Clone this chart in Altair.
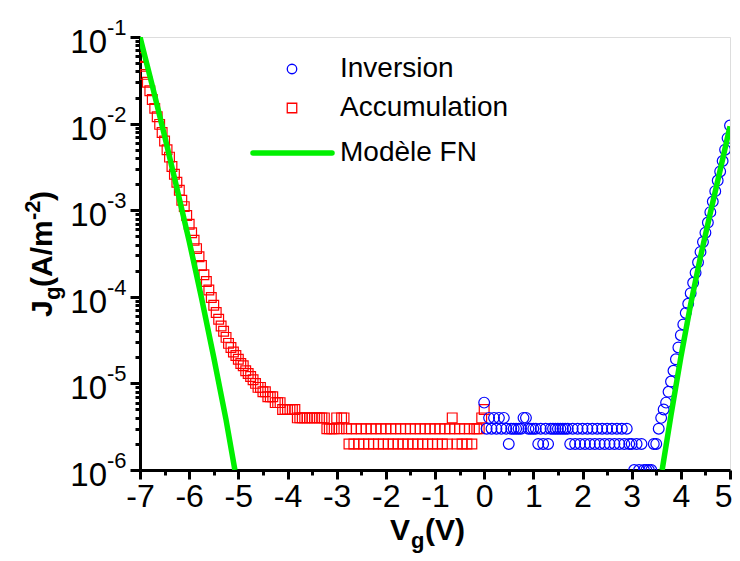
import altair as alt
import pandas as pd

# ---------------- data ----------------
STEP = 0.05  # measurement step (V)

# Accumulation, steep part: V = -7.00 ... -4.65
acc_steep_v0 = -7.00
acc_steep_J = [5.8e-2, 4.6e-2, 3.7e-2, 3.0e-2, 2.4e-2, 1.9e-2, 1.5e-2, 1.2e-2, 9.8e-3, 7.9e-3,
               6.3e-3, 5.0e-3, 4.1e-3, 3.2e-3, 2.6e-3, 2.1e-3, 1.7e-3, 1.3e-3, 1.1e-3, 8.7e-4,
               6.9e-4, 5.5e-4, 4.5e-4, 3.6e-4, 2.9e-4, 2.3e-4, 1.8e-4, 1.5e-4, 1.2e-4, 9.8e-5,
               8.0e-5, 6.6e-5, 5.5e-5, 4.6e-5, 4.0e-5, 3.4e-5, 2.9e-5, 2.6e-5, 2.3e-5, 2.1e-5,
               1.9e-5, 1.7e-5, 1.6e-5, 1.4e-5, 1.3e-5, 1.2e-5, 1.1e-5, 1.0e-5]

# Accumulation, low-level part: V = -4.60 ... 0.00, values in units of 1e-6 A/m2
acc_low_v0 = -4.60
acc_low_mant = [9, 9, 8, 8, 7, 7, 7, 6, 6, 6, 5, 5, 5, 5, 5, 5,
                4, 4, 4, 4, 4, 4, 4, 4, 4, 4, 4, 4,
                3, 3, 3, 3, 4, 3, 4, 4, 3,
                2, 3, 2, 3, 2, 3, 2, 3, 2, 3, 2, 3, 2, 3, 2, 3, 2, 3, 2, 3,
                2, 3, 2, 3, 2, 3, 2, 3, 2, 3, 2, 3, 2, 3, 2, 3, 2, 3, 2, 3,
                2, 3, 4, 3, 2, 3, 2, 3, 2, 3, 2, 3, 3,
                3, 4, 5]

# Inversion, low-level part: V = 0.00 ... 3.55, values in units of 1e-6 A/m2
inv_low_v0 = 0.00
inv_low_mant = [6, 3, 4, 3, 4, 3, 4, 3, 4, 3,
                2, 3, 3, 3, 3, 3, 4, 4, 3, 3,
                3, 3, 2, 3, 2, 3, 2, 3, 3, 3,
                3, 3, 3, 3, 3, 2, 3, 2, 3, 2,
                3, 2, 3, 2, 3, 2, 3, 2, 3, 2,
                3, 2, 3, 2, 3, 2, 3, 2, 3, 2,
                2, 1, 2, 1, 2, 1, 1, 1, 1, 2,
                2, 3]

# Inversion, rising part: V = 3.60 ... 5.00
inv_rise_v0 = 3.60
inv_rise_J = [4e-6, 5e-6, 6e-6, 8e-6, 1.05e-5, 1.4e-5, 1.9e-5, 2.6e-5, 3.6e-5, 4.8e-5,
              6.5e-5, 8.3e-5, 1.1e-4, 1.45e-4, 1.9e-4, 2.5e-4, 3.3e-4, 4.3e-4, 5.5e-4, 7.2e-4,
              9.5e-4, 1.26e-3, 1.66e-3, 2.2e-3, 2.8e-3, 3.7e-3, 5.0e-3, 6.8e-3, 9.5e-3]

# Fowler-Nordheim model (two branches)
fn_left_V = [-7.00, -6.75, -6.50, -6.25, -6.00, -5.75, -5.50, -5.25, -5.07]
fn_left_J = [1.0e-1, 2.75e-2, 7.2e-3, 1.8e-3, 4.4e-4, 9.8e-5, 2.0e-5, 3.8e-6, 1.0e-6]
fn_right_V = [3.62, 3.80, 4.00, 4.20, 4.40, 4.60, 4.80, 5.00]
fn_right_J = [1.0e-6, 4.3e-6, 2.0e-5, 8.2e-5, 2.9e-4, 9.3e-4, 2.9e-3, 9.3e-3]

# axis ticks
x_ticks = [-7 + 0.5 * i for i in range(25)]
y_major = [1e-6, 1e-5, 1e-4, 1e-3, 1e-2, 1e-1]
y_exp = ["-6", "-5", "-4", "-3", "-2", "-1"]
y_minor = [m * 10.0 ** e for e in range(-6, -1) for m in range(2, 10)]

legend_labels = ["Inversion", "Accumulation", "Modèle FN"]

# ---------------- tables ----------------
def grid(v0, n):
    return [round(v0 + i * STEP, 2) for i in range(n)]

acc = pd.DataFrame({
    "V": grid(acc_steep_v0, len(acc_steep_J)) + grid(acc_low_v0, len(acc_low_mant)),
    "J": acc_steep_J + [m * 1e-6 for m in acc_low_mant],
})
inv = pd.DataFrame({
    "V": grid(inv_low_v0, len(inv_low_mant)) + grid(inv_rise_v0, len(inv_rise_J)),
    "J": [m * 1e-6 for m in inv_low_mant] + inv_rise_J,
})
fn = pd.DataFrame({
    "V": fn_left_V + fn_right_V,
    "J": fn_left_J + fn_right_J,
    "branch": ["left"] * len(fn_left_V) + ["right"] * len(fn_right_V),
})
ylab = pd.DataFrame({"J": y_major, "exp": y_exp})

# ---------------- scales / axes ----------------
FONT = "Liberation Sans"
RED, BLUE, GREEN = "#ff0000", "#0000ff", "#00f000"

xscale = alt.Scale(domain=[-7, 5], nice=False, zero=False)
yscale = alt.Scale(type="log", domain=[1e-6, 1e-1], nice=False)

xaxis = alt.Axis(
    values=x_ticks, title=None, grid=False,
    labelExpr="datum.value % 1 == 0 ? toString(datum.value) : ''",
    labelFont=FONT, labelFontSize=32, labelColor="black", labelPadding=2,
    labelOverlap=False, labelFlush=False,
    labelAlign={"condition": {"test": "datum.value == 5", "value": "right"}, "value": "center"},
    labelOffset={"condition": {"test": "datum.value == 5", "value": 2}, "value": 0},
    tickSize={"condition": {"test": "datum.value % 1 == 0", "value": 9}, "value": 5},
    tickWidth=3, tickColor="black", domainWidth=3, domainColor="black",
)
yaxis = alt.Axis(
    values=y_major + y_minor, title=None, grid=False, labels=False,
    tickSize={"condition": {"test": "abs(log(datum.value)/LN10 - round(log(datum.value)/LN10)) < 0.001",
                            "value": 10}, "value": 5},
    tickWidth=3, tickColor="black", domainWidth=3, domainColor="black",
)

X = alt.X("V:Q", scale=xscale, axis=xaxis)
Y = alt.Y("J:Q", scale=yscale, axis=yaxis)

acc_layer = alt.Chart(acc).mark_point(
    shape="square", filled=False, color=RED, size=95, strokeWidth=1.2, clip=True, opacity=1
).encode(x=X, y=Y)

inv_layer = alt.Chart(inv).mark_point(
    shape="circle", filled=False, color=BLUE, size=115, strokeWidth=1.2, clip=True, opacity=1
).encode(x=X, y=Y)

fn_layer = alt.Chart(fn).mark_line(color=GREEN, strokeWidth=5.5, clip=True).encode(
    x=X, y=Y, detail="branch:N"
)

# y tick labels 10^k
XD = alt.XDatum(-7, type="quantitative", scale=xscale, axis=xaxis)
ten_layer = alt.Chart(ylab).mark_text(
    text="10", align="right", baseline="middle", dx=-33, dy=6, font=FONT, fontSize=33, color="black"
).encode(x=XD, y=Y)
exp_layer = alt.Chart(ylab).mark_text(
    align="left", baseline="middle", dx=-33, dy=-9, font=FONT, fontSize=22, color="black"
).encode(x=XD, y=Y, text="exp:N")

# ---------------- axis titles (pieces for sub/superscripts) ----------------
def txt(s, x, y, size, angle=0, bold=True, align="left", baseline="alphabetic"):
    return alt.Chart(pd.DataFrame({"t": [s]})).mark_text(
        font=FONT, fontSize=size, fontWeight="bold" if bold else "normal", color="black",
        align=align, baseline=baseline, angle=angle
    ).encode(text="t:N", x=alt.value(x), y=alt.value(y))

xtitle = [
    txt("V", 250, 503, 30),
    txt("g", 271, 511, 22),
    txt("(V)", 285, 503, 30),
]
ytitle = [
    txt("J", -88, 280, 30, angle=270),
    txt("g", -80, 263, 22, angle=270),
    txt("(A/m", -88, 250, 30, angle=270),
    txt("-2", -100, 183, 22, angle=270),
    txt(")", -88, 164, 30, angle=270),
]

# ---------------- legend ----------------
def leg_point(shape, color, y):
    return alt.Chart(pd.DataFrame({"k": [0]})).mark_point(
        shape=shape, filled=False, color=color, size=90, strokeWidth=1.3, opacity=1
    ).encode(x=alt.value(152), y=alt.value(y))

leg = [
    leg_point("circle", BLUE, 32),
    leg_point("square", RED, 71),
    alt.Chart(pd.DataFrame({"k": [0]})).mark_rule(color=GREEN, strokeWidth=5.5, strokeCap="round").encode(
        x=alt.value(113), x2=alt.value(192), y=alt.value(116)
    ),
    txt(legend_labels[0], 200, 32, 28, bold=False, baseline="middle"),
    txt(legend_labels[1], 200, 71, 28, bold=False, baseline="middle"),
    txt(legend_labels[2], 200, 116, 28, bold=False, baseline="middle"),
]

chart = alt.layer(
    acc_layer, inv_layer, fn_layer, ten_layer, exp_layer, *xtitle, *ytitle, *leg
).properties(
    width=590, height=433,
    padding={"left": 132, "top": 29, "right": 2, "bottom": 83},
    autosize=alt.AutoSizeParams(type="none"),
).configure_view(
    stroke="black", strokeWidth=3
).configure(background="white")

chart.save("out.html", embed_options={"renderer": "svg", "actions": False})
